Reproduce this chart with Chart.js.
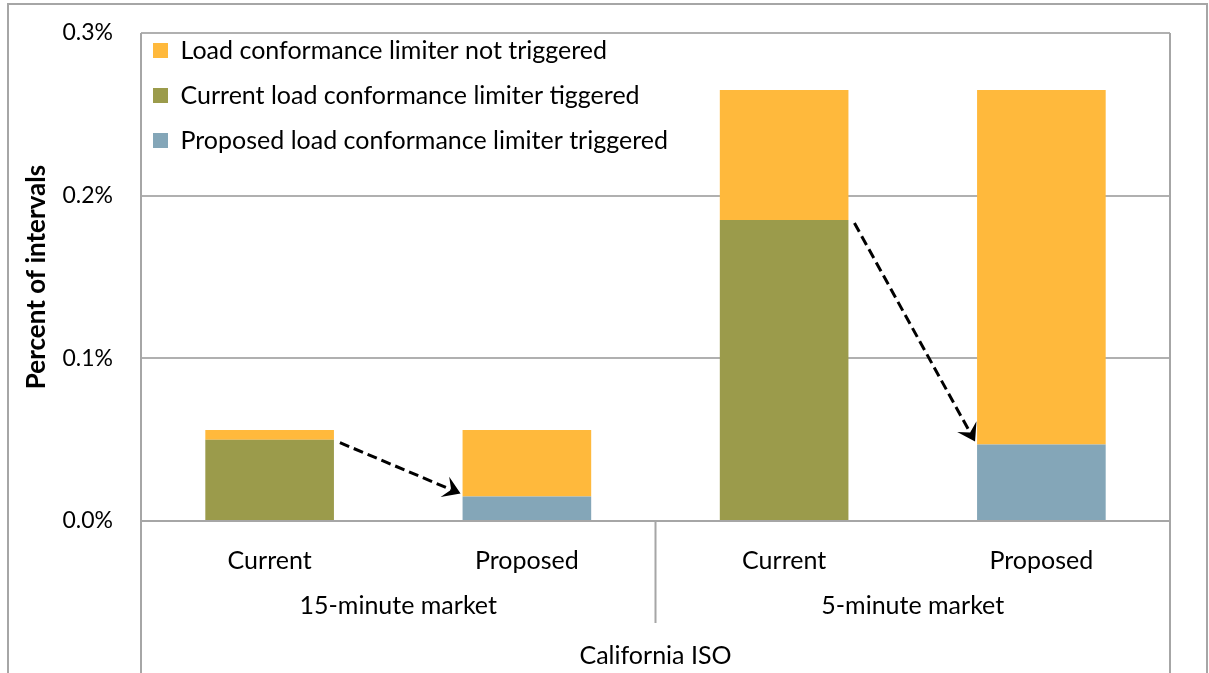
<!DOCTYPE html>
<html>
<head>
<meta charset="utf-8">
<title>Load conformance limiter - California ISO</title>
<script src="https://cdn.jsdelivr.net/npm/chart.js@4.4.1/dist/chart.umd.min.js"></script>
<style>
  html, body { margin: 0; padding: 0; background: #fff; }
  #wrap { width: 1209px; height: 673px; }
</style>
</head>
<body>
<div id="wrap"><canvas id="chart"></canvas></div>
<script>
// categories (three label rows under the plot)
const scenarios = ["Current", "Proposed", "Current", "Proposed"];
const markets = ["15-minute market", "5-minute market"];
const operator = "California ISO";

// series, percent of intervals
const notTriggered = [0.006, 0.041, 0.080, 0.218];
const currentTriggered = [0.050, 0, 0.185, 0];
const proposedTriggered = [0, 0.015, 0, 0.047];

// y axis ticks
const yTicks = [0, 0.1, 0.2, 0.3];

// arrows: from the current bar to the proposed bar (category indexes)
const arrowPairs = [[0, 1], [2, 3]];

const orange = "rgb(255,185,60)";
const green = "rgb(155,155,75)";
const blue = "rgb(132,166,184)";
const lineGray = "#b0b0b0";
const frameGray = "#a6a6a6";

Chart.defaults.font.family = "Lato";
Chart.defaults.font.size = 25;
Chart.defaults.color = "#000";

//dashed arrow with a stealth head
function drawArrow(ctx, x1, y1, x2, y2) {
  const ang = Math.atan2(y2 - y1, x2 - x1);
  const c = Math.cos(ang), s = Math.sin(ang);
  const headLen = 17, headW = 11;
  const nx = x2 - c * headLen * 0.6, ny = y2 - s * headLen * 0.6;
  ctx.save();
  ctx.strokeStyle = "#000";
  ctx.lineWidth = 3;
  ctx.setLineDash([10, 5]);
  ctx.beginPath();
  ctx.moveTo(x1, y1);
  ctx.lineTo(nx, ny);
  ctx.stroke();
  ctx.setLineDash([]);
  const bx = x2 - c * headLen, by = y2 - s * headLen;
  ctx.fillStyle = "#000";
  ctx.beginPath();
  ctx.moveTo(x2, y2);
  ctx.lineTo(bx + s * headW, by - c * headW);
  ctx.lineTo(nx, ny);
  ctx.lineTo(bx - s * headW, by + c * headW);
  ctx.closePath();
  ctx.fill();
  ctx.restore();
}

const decorPlugin = {
  id: "decor",
  afterLayout(chart) {
    //move the legend into the top left corner of the plot
    const lg = chart.legend, area = chart.chartArea;
    lg.left = area.left - 8;
    lg.top = area.top - 15;
    lg.right = lg.left + area.width;
    lg.bottom = lg.top + area.height;
  },
  beforeDraw(chart) {
    const ctx = chart.ctx;
    ctx.save();
    ctx.strokeStyle = frameGray;
    ctx.lineWidth = 2;
    ctx.strokeRect(8, 4, chart.width - 10, chart.height + 20);
    ctx.restore();
  },
  afterDatasetsDraw(chart) {
    const ctx = chart.ctx, area = chart.chartArea;
    const x = chart.scales.x, x2 = chart.scales.x2;
    ctx.save();
    ctx.strokeStyle = frameGray;
    ctx.lineWidth = 2;
    ctx.beginPath();
    // plot sides run down through the label rows
    ctx.moveTo(area.left, area.top);
    ctx.lineTo(area.left, chart.height);
    ctx.moveTo(area.right, area.top);
    ctx.lineTo(area.right, chart.height);
    // base line
    ctx.moveTo(area.left, area.bottom);
    ctx.lineTo(area.right, area.bottom);
    // separator between the two markets
    const mid = (x.getPixelForValue(1) + x.getPixelForValue(2)) / 2;
    ctx.moveTo(mid, area.bottom);
    ctx.lineTo(mid, x2.top + 44);
    ctx.stroke();
    ctx.restore();

    const cur = chart.getDatasetMeta(1).data;
    const prop = chart.getDatasetMeta(2).data;
    arrowPairs.forEach(([a, b]) => {
      const from = cur[a], to = prop[b];
      drawArrow(ctx, from.x + from.width / 2 + 6, from.y + 3,
        to.x - to.width / 2 - 2, to.y - 3);
    });
  }
};

new Chart(document.getElementById("chart"), {
  type: "bar",
  data: {
    labels: scenarios,
    datasets: [
      { label: "Load conformance limiter not triggered", data: notTriggered, backgroundColor: orange, order: 2 },
      { label: "Current load conformance limiter tiggered", data: currentTriggered, backgroundColor: green, order: 0 },
      { label: "Proposed load conformance limiter triggered", data: proposedTriggered, backgroundColor: blue, order: 1 }
    ]
  },
  options: {
    responsive: true,
    maintainAspectRatio: false,
    animation: false,
    layout: { padding: { top: 33, right: 39, left: 0, bottom: 0 } },
    datasets: { bar: { categoryPercentage: 0.5, barPercentage: 1, borderWidth: 0 } },
    plugins: {
      tooltip: { enabled: false },
      legend: {
        position: "chartArea",
        align: "start",
        labels: {
          boxWidth: 15,
          boxHeight: 15,
          padding: 20,
          color: "#000",
          font: { size: 25 },
          sort: (a, b) => a.datasetIndex - b.datasetIndex
        }
      }
    },
    scales: {
      x: {
        stacked: true,
        weight: 0,
        grid: { display: false, drawTicks: false },
        border: { display: false },
        ticks: { padding: 25, maxRotation: 0, autoSkip: false },
        afterFit: (s) => { s.height = 58; }
      },
      x2: {
        type: "category",
        labels: markets,
        position: "bottom",
        offset: true,
        weight: 1,
        grid: { display: false, drawTicks: false },
        border: { display: false },
        ticks: { padding: 12, maxRotation: 0 },
        title: { display: true, text: operator, padding: { top: 0, bottom: 2 } },
        afterFit: (s) => { s.height = 94; }
      },
      y: {
        stacked: true,
        min: 0,
        max: 0.3,
        afterBuildTicks: (s) => { s.ticks = yTicks.map((v) => ({ value: v })); },
        // invisible tick marks keep the labels away from the axis
        grid: { color: lineGray, lineWidth: 2, drawTicks: true, tickLength: 23, tickColor: "rgba(0,0,0,0)" },
        border: { display: false },
        ticks: { padding: 5, font: { size: 23 }, callback: (v) => v.toFixed(1) + "%" },
        title: {
          display: true,
          text: "Percent of intervals",
          font: { size: 26, weight: "bold" },
          padding: { top: 21, bottom: 0 }
        },
        afterFit: (s) => { s.width = 141; }
      }
    }
  },
  plugins: [decorPlugin]
});
</script>
</body>
</html>
